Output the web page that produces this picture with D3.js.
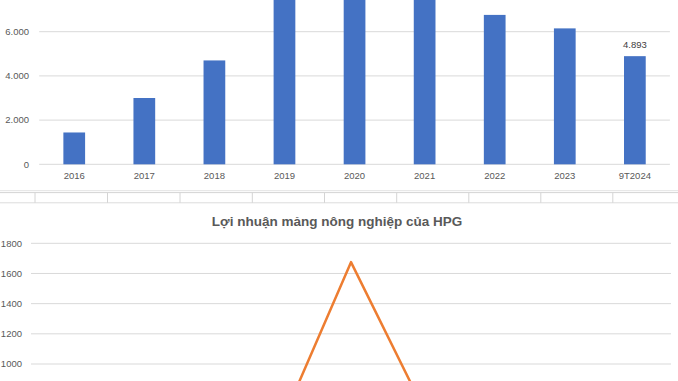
<!DOCTYPE html>
<html><head><meta charset="utf-8">
<script src="https://cdn.jsdelivr.net/npm/d3@7"></script>
<style>
html,body{margin:0;padding:0;background:#fff;}
svg{display:block;}
text{font-family:"Liberation Sans",Arial,sans-serif;}
</style></head>
<body>
<script>
// ---- data ----
const categories = ["2016","2017","2018","2019","2020","2021","2022","2023","9T2024"];
const profitValues = [1440, 3000, 4700, 8200, 8900, 9500, 6760, 6150, 4893];
const profitLabels = [null, null, null, null, null, null, null, null, "4.893"];
const barTicks = [0, 2000, 4000, 6000];
const agriTitle = "Lợi nhuận mảng nông nghiệp của HPG";
const agriValues = [300, 420, 480, 587, 1675, 723, 250, 320, 380];
const agriTicks = [1000, 1200, 1400, 1600, 1800];
const cellCols = [35, 107.5, 180, 252.3, 324.5, 396.7, 468.8, 540.8, 612.8];

const W = 678, H = 381;
const svg = d3.select("body").append("svg").attr("width", W).attr("height", H);
const grid = "#d9d9d9", txt = "#595959";
const fmt = d => d3.format(",")(d).replace(/,/g, ".");

// ---- top bar chart ----
const x1 = d3.scaleBand().domain(categories).range([39.2, 669.9]).padding(0);
const y1 = d3.scaleLinear().domain([0, 6000]).range([164.3, 31.7]);
const g1 = svg.append("g");
g1.append("g").selectAll("line").data(barTicks).join("line")
  .attr("x1", 39.2).attr("x2", 669.9)
  .attr("y1", d => y1(d)).attr("y2", d => y1(d))
  .attr("stroke", grid).attr("stroke-width", 1);
g1.append("g").selectAll("text").data(barTicks).join("text")
  .attr("x", 29).attr("y", d => y1(d)).attr("dy", "0.35em")
  .attr("text-anchor", "end").attr("font-size", 9.5).attr("fill", txt)
  .text(d => fmt(d));
const bw = x1.bandwidth() * 0.31;
g1.append("g").selectAll("rect").data(categories).join("rect")
  .attr("x", (d) => x1(d) + x1.bandwidth()/2 - bw/2)
  .attr("y", (d, i) => y1(profitValues[i]))
  .attr("width", bw)
  .attr("height", (d, i) => y1(0) - y1(profitValues[i]))
  .attr("fill", "#4472c4");
g1.append("g").selectAll("text").data(categories).join("text")
  .attr("x", d => x1(d) + x1.bandwidth()/2).attr("y", 176)
  .attr("dy", "0.35em").attr("text-anchor", "middle")
  .attr("font-size", 9.5).attr("fill", txt).text(d => d);
g1.append("g").selectAll("text").data(categories.filter((d, i) => profitLabels[i])).join("text")
  .attr("x", d => x1(d) + x1.bandwidth()/2)
  .attr("y", d => y1(profitValues[categories.indexOf(d)]) - 11.5)
  .attr("dy", "0.35em").attr("text-anchor", "middle")
  .attr("font-size", 9.5).attr("fill", "#404040")
  .text(d => profitLabels[categories.indexOf(d)]);

// ---- spreadsheet cell borders between charts ----
const cells = svg.append("g");
cells.append("line").attr("x1", 0).attr("x2", W).attr("y1", 190.7).attr("y2", 190.7).attr("stroke", "#e3e3e3");
cells.append("line").attr("x1", 0).attr("x2", W).attr("y1", 192.6).attr("y2", 192.6).attr("stroke", "#d4d4d4");
cells.append("line").attr("x1", 0).attr("x2", W).attr("y1", 202.8).attr("y2", 202.8).attr("stroke", "#dcdcdc");
cells.selectAll("line.v").data(cellCols).join("line").attr("class", "v")
  .attr("x1", d => d).attr("x2", d => d).attr("y1", 192.6).attr("y2", 202.8)
  .attr("stroke", "#d4d4d4");

// ---- bottom line chart ----
const x2 = d3.scaleBand().domain(categories).range([31, 671]).padding(0);
const y2 = d3.scaleLinear().domain([1000, 1800]).range([364, 243.3]);
const g2 = svg.append("g");
g2.append("text").attr("x", 337).attr("y", 225.5).attr("text-anchor", "middle")
  .attr("font-size", 13.5).attr("font-weight", "bold").attr("fill", txt)
  .attr("font-family", "'Open Sans',sans-serif").text(agriTitle);
g2.append("g").selectAll("line").data(agriTicks).join("line")
  .attr("x1", 31).attr("x2", 671)
  .attr("y1", d => y2(d)).attr("y2", d => y2(d))
  .attr("stroke", grid).attr("stroke-width", 1);
g2.append("g").selectAll("text").data(agriTicks).join("text")
  .attr("x", 22).attr("y", d => y2(d)).attr("dy", "0.35em")
  .attr("text-anchor", "end").attr("font-size", 9.5).attr("fill", txt)
  .text(d => d);
const line = d3.line()
  .x((d, i) => x2(categories[i]) + x2.bandwidth()/2)
  .y(d => y2(d));
g2.append("path").datum(agriValues).attr("d", line)
  .attr("fill", "none").attr("stroke", "#ed7d31").attr("stroke-width", 2.5)
  .attr("stroke-linejoin", "round");
</script>
</body></html>
